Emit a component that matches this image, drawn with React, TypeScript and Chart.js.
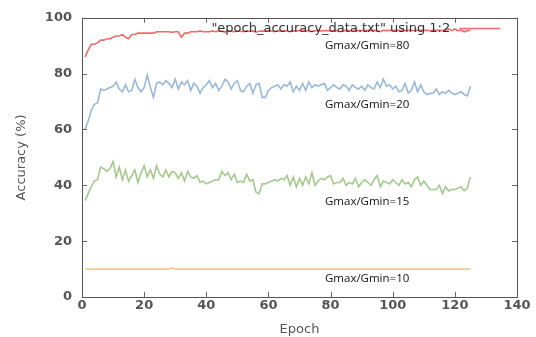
import React, { useEffect, useRef } from "react";
import { Chart, registerables } from "chart.js";

Chart.register(...registerables);

const xTicks = [0, 20, 40, 60, 80, 100, 120, 140];
const yTicks = [0, 20, 40, 60, 80, 100];

const acc80 = [
  86, 88.5, 90.5, 90.5, 91, 92, 92, 92.5, 92.5, 93,
  93.5, 93.5, 94, 93, 92.5, 94, 94, 94.5, 94.5, 94.5,
  94.5, 94.5, 94.5, 95, 95, 95, 95, 95, 94.8, 95,
  95, 93, 94.5, 94.5, 95, 95, 95, 95.3, 95, 95,
  95, 95.3, 95, 95.3, 95.2, 94.9, 95.3, 95.2, 95, 95.3,
  95.2, 95, 95.3, 95.2, 95.3, 94.9, 95.2, 95.3, 95.2, 95.4,
  95.3, 95, 95.4, 95.3, 95.4, 95.3, 95, 95.4, 95.3, 95.4,
  95.4, 95.3, 95.4, 95, 95.4, 95.4, 95.3, 95.4, 95.4, 95.3,
  95.4, 95.4, 95, 95.4, 95.5, 95.4, 95.3, 95.5, 95.4, 95.5,
  95.4, 95.5, 95.4, 95.5, 95.4, 95, 95.5, 95.4, 95.5, 95.5,
  95.4, 95.5, 95.5, 95.4, 95.5, 95.5, 95.4, 95.5, 95.5, 95.5,
  95.5, 95.4, 95.5, 95.5, 95.5, 95.4, 95.5, 96, 95.4, 96,
  95.4, 95.6, 95, 95.4, 95.5,
];

const acc20 = [
  60, 63, 67, 69, 69.5, 74.5, 74, 74.5, 75, 75.5,
  77, 74.5, 73.5, 76, 73.5, 74, 78, 75, 73.5, 75,
  79.5, 75, 71.5, 76.5, 77, 76, 77.5, 76.5, 75, 78,
  74.5, 77, 76, 77.5, 74, 76.5, 75.5, 73, 75, 76,
  77.5, 75, 76.5, 74, 75.5, 78, 77, 74.5, 76.5, 77.5,
  74, 73.5, 75.5, 76.5, 73, 76, 76.5, 71.5, 71.5, 74,
  75, 75.5, 76, 74.5, 76, 75.5, 77, 73.5, 75.5, 74,
  76.5, 74, 77, 75, 76, 75.5, 76, 76.5, 74, 75,
  76, 75, 74.5, 76, 75.5, 74, 76, 75, 74.5, 75.5,
  74, 76, 75, 74.5, 77, 75, 78, 75.5, 76, 74.5,
  75.5, 73.5, 74, 76.5, 73, 74, 77, 73.5, 76, 73.5,
  72.5, 73, 73, 74.5, 72.5, 73.5, 73, 74, 73, 72.5,
  73, 73.5, 72.5, 72, 75.5,
];

const acc15 = [
  34.5, 37, 39.5, 41.5, 42, 46.5, 46, 45, 46, 48.5,
  43, 46.5, 42, 45.5, 41.5, 43.5, 45.5, 41, 44.5, 47,
  43, 45.5, 42.5, 47, 44, 43, 45.5, 43, 45, 44.5,
  42.5, 44.5, 41.5, 45, 43, 42.5, 43.5, 41, 41.5, 40.5,
  41, 41.5, 42, 42, 45, 43.5, 44.5, 42, 44, 41,
  41.5, 41, 44, 41.5, 42, 37.5, 37, 40.5, 40.5, 41,
  41.5, 42, 41.5, 42.5, 42, 43.5, 40, 43, 39.5, 42.5,
  40, 43, 40.5, 44.5, 40, 41.5, 42.5, 42, 43, 43.5,
  40.5, 41, 41, 42.5, 40, 41, 40.5, 42.5, 39.5, 41,
  42, 41, 40, 42, 43.5, 39.5, 41.5, 41, 40.5, 42,
  41, 40, 42, 40.5, 41, 39.5, 42, 43, 40, 41.5,
  40, 38.5, 38.5, 38.5, 40, 37, 39.5, 38, 38.5, 38.5,
  39, 39.5, 38, 39, 43,
];

const acc10 = [
  10, 10, 10, 10, 10, 10, 10, 10, 10, 10,
  10, 10, 10, 10, 10, 10, 10, 10, 10, 10,
  10, 10, 10, 10, 10, 10, 10, 10, 10.4, 10,
  10, 10, 10, 10, 10, 10, 10, 10, 10, 10,
  10, 10, 10, 10, 10, 10, 10, 10, 10, 10,
  10, 10, 10, 10, 10, 10, 10, 10, 10, 10,
  10, 10, 10, 10, 10, 10, 10, 10, 10, 10,
  10, 10, 10, 10, 10, 10, 10, 10, 10, 10,
  10, 10, 10, 10, 10, 10, 10, 10, 10, 10,
  10, 10, 10, 10, 10, 10, 10, 10, 10, 10,
  10, 10, 10, 10, 10, 10, 10, 10, 10, 10,
  10, 10, 10, 10, 10, 10, 10, 10, 10, 10,
  10, 10, 10, 10, 10,
];

const seriesNames = ["Gmax/Gmin=80", "Gmax/Gmin=20", "Gmax/Gmin=15", "Gmax/Gmin=10"];
const seriesColors = ["#f26b6b", "#98b8dc", "#a3c98d", "#f5c994"];
const labelAnchorY = [90, 68.8, 34, 6.7];
const labelAnchorX = 78.2;
const keyTitle = "\"epoch_accuracy_data.txt\" using 1:2";

const toPoints = (vals: number[]) => vals.map((v, i) => ({ x: i + 1, y: v }));

const framePlugin = {
  id: "frame",
  afterDatasetsDraw(chart: any) {
    const { ctx, chartArea: a, scales } = chart;
    const xs = scales.x;
    const ys = scales.y;
    ctx.save();
    // inward ticks
    ctx.strokeStyle = "#666";
    ctx.lineWidth = 1;
    ctx.beginPath();
    xTicks.forEach((t) => {
      const px = Math.round(xs.getPixelForValue(t)) + 0.5;
      ctx.moveTo(px, a.bottom);
      ctx.lineTo(px, a.bottom - 5);
      ctx.moveTo(px, a.top);
      ctx.lineTo(px, a.top + 5);
    });
    yTicks.forEach((t) => {
      const py = Math.round(ys.getPixelForValue(t)) + 0.5;
      ctx.moveTo(a.left, py);
      ctx.lineTo(a.left + 5, py);
      ctx.moveTo(a.right, py);
      ctx.lineTo(a.right - 5, py);
    });
    ctx.stroke();
    ctx.strokeStyle = "#555";
    ctx.strokeRect(Math.round(a.left) + 0.5, Math.round(a.top) + 0.5, Math.round(a.right - a.left), Math.round(a.bottom - a.top));

    // series labels
    ctx.fillStyle = "#111";
    ctx.font = "11.5px 'Open Sans'";
    ctx.textAlign = "left";
    ctx.textBaseline = "middle";
    seriesNames.forEach((n, i) => {
      ctx.fillText(n, xs.getPixelForValue(labelAnchorX), ys.getPixelForValue(labelAnchorY[i]));
    });

    // key
    const keyY = ys.getPixelForValue(96.2);
    ctx.font = "13px 'DejaVu Sans'";
    ctx.fillStyle = "#333";
    ctx.textAlign = "right";
    ctx.fillText(keyTitle, xs.getPixelForValue(118.5), keyY);
    ctx.strokeStyle = seriesColors[0];
    ctx.lineWidth = 1.5;
    ctx.beginPath();
    ctx.moveTo(xs.getPixelForValue(121.5), keyY);
    ctx.lineTo(xs.getPixelForValue(134.5), keyY);
    ctx.stroke();
    ctx.restore();
  },
};

export default function App() {
  const ref = useRef<HTMLCanvasElement | null>(null);
  useEffect(() => {
    document.body.style.margin = "0";
    const canvas = ref.current;
    if (!canvas) return;
    const tickFont = { family: "'DejaVu Sans'", size: 13, weight: "bold" as const };
    const chart = new Chart(canvas, {
      type: "line",
      data: {
        datasets: [acc80, acc20, acc15, acc10].map((vals, i) => ({
          label: seriesNames[i],
          data: toPoints(vals),
          borderColor: seriesColors[i],
          backgroundColor: seriesColors[i],
          borderWidth: 1.6,
          pointRadius: 0,
          tension: 0,
          fill: false,
        })),
      },
      options: {
        animation: false,
        responsive: false,
        maintainAspectRatio: false,
        layout: { padding: { top: 15, right: 19, left: 0, bottom: 0 } },
        plugins: { legend: { display: false }, tooltip: { enabled: false } },
        scales: {
          x: {
            type: "linear",
            min: 0,
            max: 140,
            afterBuildTicks: (s: any) => {
              s.ticks = xTicks.map((v) => ({ value: v }));
            },
            ticks: { color: "#555", font: tickFont, padding: 1, maxRotation: 0 },
            grid: { display: false, drawTicks: false },
            border: { display: false },
            title: { display: true, text: "Epoch", color: "#555", font: { family: "'DejaVu Sans'", size: 13 }, padding: { top: 0, bottom: 0 } },
            afterFit: (s: any) => {
              s.height = 40;
            },
          },
          y: {
            type: "linear",
            min: 0,
            max: 100,
            afterBuildTicks: (s: any) => {
              s.ticks = yTicks.map((v) => ({ value: v }));
            },
            ticks: { color: "#555", font: tickFont, padding: 10 },
            grid: { display: false, drawTicks: false },
            border: { display: false },
            title: { display: true, text: "Accuracy (%)", color: "#555", font: { family: "'DejaVu Sans'", size: 13 }, padding: { top: 14, bottom: 0 } },
            afterFit: (s: any) => {
              s.width = 82;
            },
          },
        },
      },
      plugins: [framePlugin],
    });
    return () => chart.destroy();
  }, []);
  return (
    <div style={{ width: 536, height: 337, background: "#fff" }}>
      <canvas ref={ref} width={536} height={337} style={{ display: "block" }} />
    </div>
  );
}
